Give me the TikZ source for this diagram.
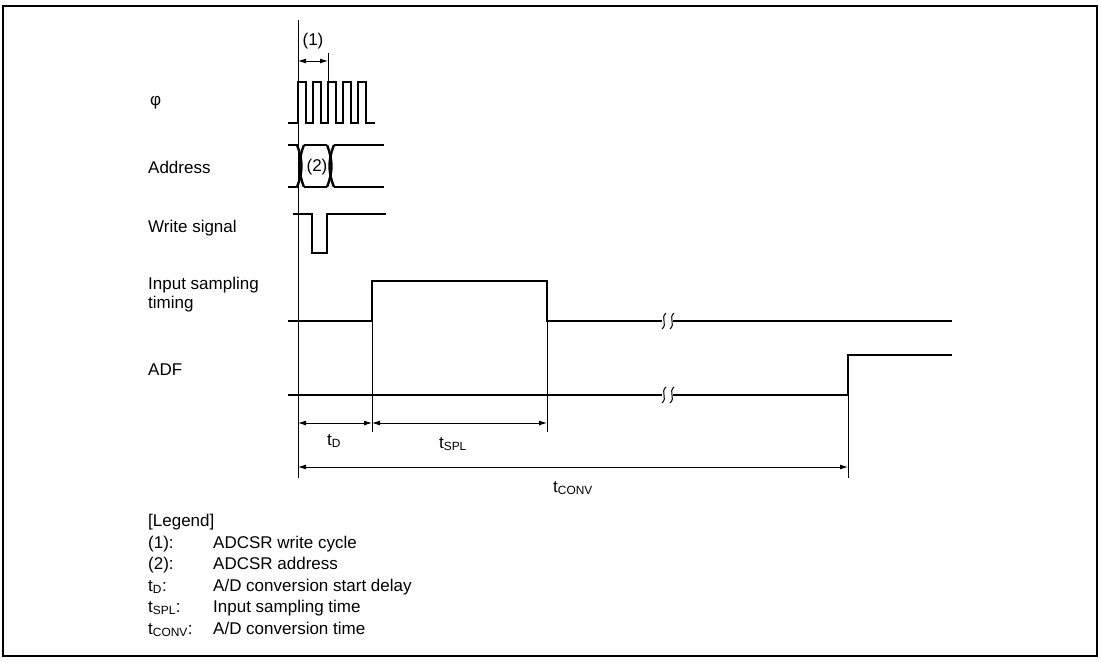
\documentclass[tikz,border=0pt]{standalone}
\usepackage{fontspec}
\setmainfont{Liberation Sans}
\usetikzlibrary{arrows.meta}
\begin{document}
\begin{tikzpicture}[x=1pt,y=-1pt,
  every node/.style={font=\fontsize{17}{19}\selectfont, inner sep=0pt},
  sig/.style={line width=2.4pt, line join=miter},
  refl/.style={line width=0.9pt},
  dimarrow/.style={line width=0.9pt, {Latex[length=8pt,width=5pt]}-{Latex[length=8pt,width=5pt]}},
  brk/.style={line width=1pt},
  lbl/.style={anchor=west, align=left}]
\useasboundingbox (0,0) rectangle (1101,662);
\draw[line width=2.5pt] (3,6) rectangle (1097,656);

% time coordinates
\coordinate (r0top) at (298,20);
\coordinate (r0bot) at (298,478);
\coordinate (c1top) at (328,53);
\coordinate (c1bot) at (328,82);
\coordinate (tDtop) at (372,281);
\coordinate (tDbot) at (372,432);
\coordinate (tStop) at (547,281);
\coordinate (tSbot) at (547,432);
\coordinate (tCtop) at (848,355);
\coordinate (tCbot) at (848,478);

% signal labels
\node[lbl] (lphi) at (150,103) {φ};
\node[lbl] (ladr) at (148,167) {Address};
\node[lbl] (lwr) at (148,228) {Write signal};
\node[lbl] (lisp) at (148,295) {Input sampling\\timing};
\node[lbl] (ladf) at (148,370) {ADF};

% reference lines
\draw[refl] (r0top) -- (r0bot);
\draw[refl] (c1top) -- (c1bot);
\draw[refl] (tDtop) -- (tDbot);
\draw[refl] (tStop) -- (tSbot);
\draw[refl] (tCtop) -- (tCbot);

% clock
\draw[sig] (288,123)
  \foreach \s in {298,313,328,343,358} { -- (\s,123) -- (\s,82) -- (\s+8,82) -- (\s+8,123) }
  -- (375,123);

% address
\draw[sig] (288,145) -- (298,145);
\draw[sig] (288,187) -- (298,187);
\draw[sig] (297,145) .. controls (303,160) and (303,172) .. (297,187);
\draw[sig] (304,145) .. controls (298,160) and (298,172) .. (304,187);
\draw[sig] (304,145) -- (327,145);
\draw[sig] (304,187) -- (327,187);
\draw[sig] (327,145) .. controls (333,160) and (333,172) .. (327,187);
\draw[sig] (334,145) .. controls (328,160) and (328,172) .. (334,187);
\draw[sig] (334,145) -- (384,145);
\draw[sig] (334,187) -- (384,187);
\node (n2) at (317,167) {(2)};

% write signal
\draw[sig] (293,214) -- (312,214) -- (312,253) -- (327,253) -- (327,214) -- (386,214);

% input sampling timing
\draw[sig] (288,321) -- (372,321) -- (372,281) -- (547,281) -- (547,321) -- (662,321);
\draw[sig] (673,321) -- (952,321);
% ADF
\draw[sig] (288,395) -- (662,395);
\draw[sig] (673,395) -- (848,395) -- (848,355) -- (952,355);

% break marks
\foreach \y in {321,395} {
  \foreach \x in {664,672} {
    \draw[brk] (\x+2,\y-8) .. controls (\x-4,\y-3) and (\x+4,\y+3) .. (\x-2,\y+8);
  }
}

% dimensions
\coordinate (a1l) at (298,61);
\coordinate (a1r) at (328,61);
\draw[dimarrow] (a1l) -- (a1r);
\node (n1) at (313,41) {(1)};

\coordinate (dL) at (298,423);
\coordinate (dM) at (372,423);
\coordinate (dR) at (547,423);
\draw[dimarrow] (dL) -- (dM);
\draw[dimarrow] (dM) -- (dR);
\node (ntd) at (334,441) {t\textsubscript{D}};
\node (ntspl) at (453,444) {t\textsubscript{SPL}};

\coordinate (cL) at (298,467);
\coordinate (cR) at (848,467);
\draw[dimarrow] (cL) -- (cR);
\node (ntconv) at (573,488) {t\textsubscript{CONV}};

% legend
\node[anchor=base west] (lg0) at (148,526) {[Legend]};
\node[anchor=base west] (lg1a) at (148,548) {(1):};
\node[anchor=base west] (lg1b) at (213,548) {ADCSR write cycle};
\node[anchor=base west] (lg2a) at (148,569) {(2):};
\node[anchor=base west] (lg2b) at (213,569) {ADCSR address};
\node[anchor=base west] (lg3a) at (148,591) {t\textsubscript{D}:};
\node[anchor=base west] (lg3b) at (213,591) {A/D conversion start delay};
\node[anchor=base west] (lg4a) at (148,612) {t\textsubscript{SPL}:};
\node[anchor=base west] (lg4b) at (213,612) {Input sampling time};
\node[anchor=base west] (lg5a) at (148,634) {t\textsubscript{CONV}:};
\node[anchor=base west] (lg5b) at (213,634) {A/D conversion time};
\end{tikzpicture}
\end{document}
